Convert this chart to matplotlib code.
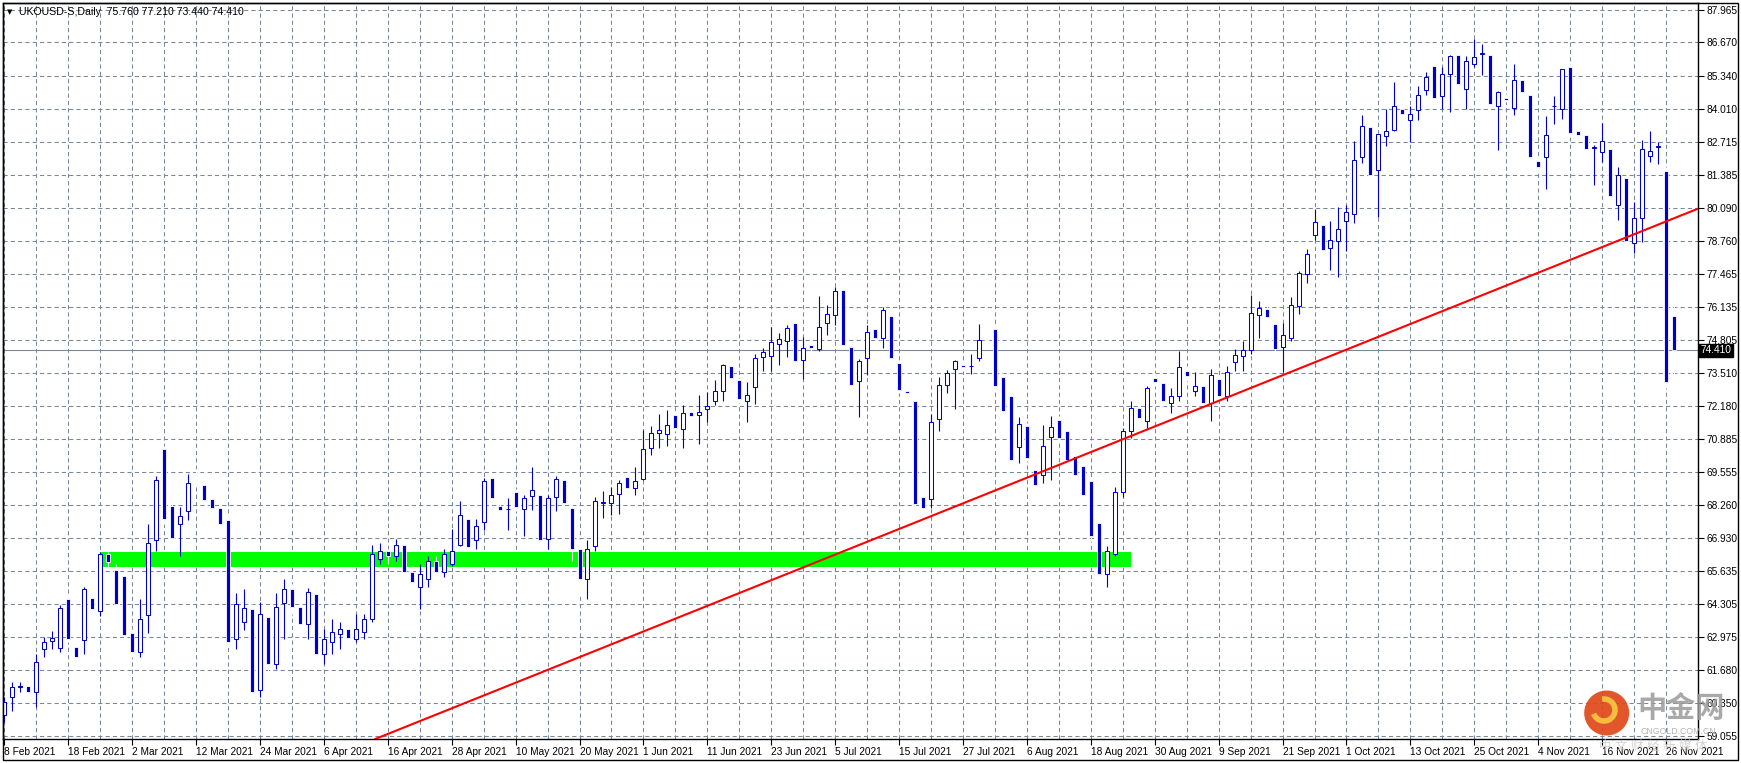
import numpy as np
import matplotlib
matplotlib.use('Agg')
import matplotlib.pyplot as plt
from matplotlib.patches import Rectangle, Circle, Arc

plt.rcParams['font.family'] = ['Liberation Sans', 'Noto Sans CJK SC', 'DejaVu Sans']

# daily candles, 8 Feb 2021 .. 29 Nov 2021
opens = [59.9, 60.6, 61.0, 61.05, 60.8, 62.5, 62.84, 62.55, 64.52, 62.6,
         62.86, 64.56, 64.03, 66.31, 65.65, 65.41, 63.14, 62.4, 63.88, 66.87,
         70.47, 68.20, 67.51, 67.99, 69.3, 69.03, 68.49, 68.12, 67.64, 62.9,
         63.57, 64.10, 60.9, 63.78, 61.9, 64.36, 64.92, 64.2, 63.5, 64.7,
         62.3, 62.8, 63.1, 63.3, 62.9, 63.2, 63.7, 66.1, 66.4, 66.2,
         66.64, 65.6, 65.0, 65.3, 66.0, 65.6, 65.9, 66.65, 67.71, 66.86,
         67.58, 69.31, 68.19, 68.07, 68.75, 68.10, 68.60, 68.63, 66.90, 68.56,
         69.23, 68.12, 66.5, 65.3, 66.6, 68.34, 68.33, 68.67, 69.36, 68.91,
         69.29, 70.50, 71.13, 71.09, 71.82, 71.29, 71.94, 71.85, 72.09, 72.41,
         72.77, 73.79, 73.22, 72.41, 72.93, 74.16, 74.19, 74.68, 74.78, 75.49,
         74.03, 74.61, 74.45, 75.50, 75.82, 76.80, 74.53, 73.17, 74.12, 75.25,
         74.88, 75.77, 73.92, 72.78, 72.38, 68.56, 68.47, 71.69, 73.04, 73.68,
         73.84, 73.78, 74.12, 74.8, 75.25, 73.35, 72.58, 70.56, 71.39, 69.66,
         69.46, 70.97, 71.63, 71.21, 70.21, 69.79, 69.20, 67.52, 65.5, 66.3,
         68.78, 71.2, 72.1, 71.6, 73.32, 73.1, 72.3, 72.6, 73.60, 72.8,
         73.0, 72.3, 73.26, 72.6, 73.93, 74.17, 74.41, 75.80, 76.06, 75.47,
         74.56, 74.88, 76.16, 77.45, 79.02, 79.41, 78.48, 78.76, 79.56, 79.83,
         82.10, 83.31, 81.59, 82.94, 83.17, 84.03, 83.58, 83.98, 84.77, 85.74,
         84.53, 85.41, 86.18, 84.81, 85.81, 86.21, 86.18, 84.14, 84.45, 84.06,
         85.18, 84.59, 81.96, 82.10, 84.12, 84.02, 85.70, 83.15, 83.0, 82.47,
         82.30, 82.44, 80.19, 81.28, 78.68, 79.68, 82.14, 82.51, 81.56, 75.76]
highs = [60.6, 61.2, 61.2, 61.2, 62.3, 63.0, 63.22, 64.26, 64.7, 62.8,
         65.0, 64.8, 66.37, 66.37, 65.89, 65.76, 63.3, 64.52, 67.51, 69.39,
         70.6, 68.4, 68.15, 69.47, 69.7, 69.7, 68.6, 68.2, 67.8, 64.75,
         64.89, 64.3, 64.38, 64.0, 64.75, 65.29, 65.1, 64.4, 64.95, 64.8,
         63.3, 63.7, 63.6, 63.5, 63.9, 63.9, 66.64, 66.72, 66.5, 66.88,
         66.8, 65.8, 65.9, 66.2, 66.2, 66.5, 67.29, 68.39, 67.9, 67.71,
         69.32, 69.4, 68.3, 68.51, 68.9, 68.63, 69.78, 68.8, 68.63, 69.40,
         69.4, 68.3, 66.9, 66.85, 68.55, 68.80, 68.97, 69.24, 69.5, 69.77,
         71.24, 71.39, 71.86, 72.02, 72.0, 72.22, 72.1, 72.62, 72.75, 73.22,
         73.87, 73.9, 73.3, 73.14, 74.25, 74.52, 75.33, 75.09, 75.41, 75.6,
         74.92, 74.7, 76.56, 76.20, 76.93, 77.0, 74.7, 74.05, 75.40, 75.4,
         76.14, 75.9, 74.0, 72.9, 72.5, 68.7, 71.86, 73.36, 73.62, 74.01,
         74.0, 74.28, 75.45, 75.0, 75.4, 73.5, 72.7, 71.74, 71.5, 69.8,
         71.43, 71.81, 71.8, 71.3, 70.4, 69.9, 69.3, 67.6, 66.6, 68.98,
         71.33, 72.4, 72.3, 73.0, 73.5, 73.2, 72.9, 74.39, 73.8, 73.56,
         73.1, 73.68, 73.4, 73.80, 74.47, 74.79, 76.62, 76.36, 76.2, 75.6,
         75.51, 76.54, 77.58, 78.45, 80.02, 79.6, 79.57, 80.13, 80.19, 82.73,
         83.79, 83.5, 83.03, 84.03, 85.10, 84.2, 84.15, 84.94, 85.50, 85.9,
         85.69, 86.18, 86.3, 86.14, 86.82, 86.62, 86.3, 84.75, 84.6, 85.82,
         85.3, 84.7, 82.1, 83.75, 84.55, 85.61, 85.8, 83.3, 83.1, 82.57,
         83.47, 82.6, 81.72, 81.4, 80.30, 82.80, 83.15, 82.70, 81.7, 77.21]
lows = [59.6, 60.05, 60.8, 60.6, 60.2, 62.2, 62.5, 62.4, 62.8, 62.0,
        62.3, 63.9, 63.82, 65.78, 64.2, 62.9, 62.2, 62.2, 63.15, 66.42,
        67.5, 66.8, 66.22, 67.65, 69.0, 68.3, 68.0, 67.3, 62.6, 62.5,
        63.29, 60.5, 60.6, 61.6, 61.7, 62.93, 63.9, 63.3, 62.9, 62.0,
        61.9, 62.3, 62.5, 62.7, 62.8, 62.9, 63.6, 65.9, 65.9, 66.0,
        65.5, 65.0, 64.1, 65.0, 65.4, 65.4, 65.8, 66.61, 66.4, 66.5,
        67.25, 68.4, 67.9, 67.25, 68.0, 67.01, 68.04, 66.7, 66.48, 68.0,
        68.2, 66.0, 64.7, 64.5, 66.4, 67.75, 67.86, 67.91, 68.8, 68.65,
        69.26, 70.24, 70.52, 70.60, 71.2, 70.52, 71.7, 70.68, 71.56, 72.23,
        72.39, 73.2, 72.3, 71.56, 72.27, 73.59, 73.59, 73.83, 74.13, 73.9,
        73.27, 74.4, 74.39, 75.02, 75.42, 74.5, 72.9, 71.76, 73.43, 74.8,
        74.51, 74.0, 72.7, 72.6, 68.1, 68.0, 68.11, 71.20, 72.71, 72.09,
        73.6, 73.48, 73.99, 74.5, 72.8, 71.8, 69.9, 69.91, 70.0, 68.9,
        69.12, 69.25, 70.8, 69.9, 69.3, 68.5, 66.8, 65.1, 65.0, 66.2,
        68.55, 70.9, 71.4, 71.3, 73.0, 72.2, 71.9, 72.4, 73.2, 72.6,
        72.2, 71.6, 72.5, 72.4, 73.57, 73.60, 74.25, 74.91, 75.6, 74.3,
        73.53, 74.76, 75.84, 77.07, 78.80, 78.2, 77.59, 77.31, 78.35, 79.46,
        81.85, 81.3, 79.72, 82.53, 83.13, 83.7, 82.69, 83.60, 84.56, 84.3,
        84.0, 83.90, 84.9, 84.0, 85.71, 85.37, 84.1, 82.37, 84.3, 83.76,
        84.5, 82.0, 81.5, 80.82, 83.43, 83.63, 82.9, 82.9, 82.3, 81.0,
        81.91, 80.4, 79.58, 78.6, 78.28, 78.72, 81.89, 81.81, 72.9, 73.44]
closes = [60.4, 61.0, 61.05, 60.8, 62.0, 62.8, 62.94, 64.16, 62.93, 62.2,
          64.91, 64.11, 66.31, 65.99, 64.31, 63.07, 62.4, 63.69, 66.75, 69.26,
          67.69, 66.94, 67.83, 69.14, 69.3, 68.45, 68.13, 67.48, 62.8, 64.32,
          64.16, 60.8, 63.92, 61.9, 64.20, 64.92, 64.2, 63.5, 64.8, 62.3,
          62.9, 63.2, 63.3, 62.95, 63.3, 63.7, 66.3, 66.4, 66.2, 66.64,
          65.6, 65.2, 65.5, 66.0, 65.6, 66.3, 66.4, 67.86, 66.57, 67.42,
          69.19, 68.52, 68.04, 68.09, 68.16, 68.54, 68.83, 66.85, 68.54, 69.29,
          68.31, 66.5, 65.3, 66.5, 68.39, 68.38, 68.64, 69.14, 68.93, 69.22,
          70.46, 71.13, 71.23, 71.45, 71.32, 71.93, 71.80, 71.97, 72.21, 72.78,
          73.81, 73.31, 72.47, 72.61, 74.12, 74.36, 74.72, 74.84, 75.28, 73.99,
          74.52, 74.50, 75.35, 75.87, 76.79, 74.63, 73.03, 74.0, 75.12, 74.88,
          76.03, 74.12, 72.81, 72.70, 68.29, 68.11, 71.57, 73.04, 73.52, 73.97,
          73.75, 73.80, 74.81, 74.8, 72.99, 71.98, 70.03, 71.47, 70.11, 69.05,
          70.58, 71.37, 70.92, 70.03, 69.45, 68.65, 67.0, 65.5, 66.4, 68.76,
          71.21, 72.1, 71.7, 72.9, 73.13, 72.4, 72.6, 73.76, 73.37, 73.0,
          72.3, 73.42, 72.6, 73.54, 74.22, 74.43, 75.89, 76.09, 75.75, 74.45,
          75.02, 76.21, 77.49, 78.24, 79.52, 78.39, 78.80, 79.24, 79.91, 81.98,
          83.35, 81.41, 83.03, 83.14, 84.14, 83.80, 83.82, 84.57, 85.29, 84.44,
          85.41, 86.13, 85.0, 85.93, 86.09, 86.25, 84.20, 84.69, 84.42, 85.17,
          84.68, 82.09, 81.69, 82.98, 84.14, 85.61, 83.05, 83.0, 82.41, 82.50,
          82.74, 80.54, 81.40, 78.76, 79.68, 82.42, 82.34, 82.53, 73.13, 74.41]

date_labels = ['8 Feb 2021', '18 Feb 2021', '2 Mar 2021', '12 Mar 2021', '24 Mar 2021',
               '6 Apr 2021', '16 Apr 2021', '28 Apr 2021', '10 May 2021', '20 May 2021',
               '1 Jun 2021', '11 Jun 2021', '23 Jun 2021', '5 Jul 2021', '15 Jul 2021',
               '27 Jul 2021', '6 Aug 2021', '18 Aug 2021', '30 Aug 2021', '9 Sep 2021',
               '21 Sep 2021', '1 Oct 2021', '13 Oct 2021', '25 Oct 2021', '4 Nov 2021',
               '16 Nov 2021', '26 Nov 2021']
price_levels = [59.055, 60.350, 61.680, 62.975, 64.305, 65.635, 66.930, 68.260,
                69.555, 70.885, 72.180, 73.510, 74.805, 76.135, 77.465, 78.760,
                80.090, 81.385, 82.715, 84.010, 85.340, 86.670, 87.965]

# support zone (green rectangle) and the red trend line
zone_start, zone_end = 12, 141
zone_low, zone_high = 65.76, 66.37
trend_idx = [48, 208]
trend_price = [59.13, 79.54]

W, H = 1741, 763
BLUE = '#0000CD'
GRID = '#778899'

fig = plt.figure(figsize=(W / 100, H / 100), dpi=100)
ax = fig.add_axes([3 / W, 1 - 739 / H, (1698 - 3) / W, (739 - 3) / H])

o = np.array(opens); h = np.array(highs); l = np.array(lows); c = np.array(closes)
x = np.arange(len(o))
bull = c > o

# wicks: blue on up candles, white on down candles
ax.vlines(x[bull], l[bull], h[bull], color=BLUE, lw=0.8, zorder=3)
ax.vlines(x[~bull], l[~bull], h[~bull], color='white', lw=0.8, zorder=3)

# bodies
ax.bar(x[bull], (c - o)[bull], bottom=o[bull], width=0.5, color='white',
       edgecolor=BLUE, linewidth=0.75, zorder=4)
down_h = o[~bull] - c[~bull]
down_h = np.where(down_h > 0, np.maximum(down_h, 0.08), 0)
ax.bar(x[~bull], down_h, bottom=o[~bull] - down_h, width=0.5, color=BLUE,
       edgecolor='white', linewidth=0.6, zorder=4)

ax.add_patch(Rectangle((zone_start, zone_low), zone_end - zone_start, zone_high - zone_low,
                       facecolor='#00FF00', edgecolor='none', zorder=1))
ax.axline((trend_idx[0], trend_price[0]), (trend_idx[1], trend_price[1]),
          color='#FF0000', lw=1.5, zorder=5)
ax.axhline(closes[-1], color=GRID, lw=0.8, zorder=2)

ax.set_xlim(-0.16, 211.7)
ax.set_ylim(58.93, 88.24)

ax.set_xticks(np.arange(0, len(o), 8))
ax.set_xticklabels(date_labels[:len(np.arange(0, len(o), 8))], ha='left')
ax.set_xticks(np.arange(0, len(o) + 3, 4), minor=True)
ax.set_yticks(price_levels)
ax.set_yticklabels([f'{v:.3f}' for v in price_levels])
ax.yaxis.tick_right()
ax.tick_params(axis='y', length=4, width=0.8, pad=2, labelsize=7.3, colors='black')
ax.tick_params(axis='x', which='major', length=4, width=0.8, pad=2, labelsize=7.3)
ax.tick_params(axis='x', which='minor', length=0)
ax.set_axisbelow(True)
ax.grid(True, axis='both', which='both', color=GRID, lw=0.75, linestyle=(0, (4, 3)), zorder=0)
ax.grid(False, axis='y', which='minor')
for s in ax.spines.values():
    s.set_color('black')
    s.set_linewidth(1.0)

# current price tag
ax.text(1.0015, closes[-1], f'{closes[-1]:.3f}', transform=ax.get_yaxis_transform(),
        color='white', fontsize=7.3, va='center', ha='left', zorder=10, clip_on=False,
        bbox=dict(boxstyle='square,pad=0.15', fc='black', ec='black'))

# header
fig.text(10 / W, 1 - 12 / H, '\u25bc', fontsize=5, color='black', va='center', ha='center',
         family=['DejaVu Sans'])
fig.text(19 / W, 1 - 12 / H,
         f'UKOUSD-S,Daily  {opens[-1]:.3f} {highs[-1]:.3f} {lows[-1]:.3f} {closes[-1]:.3f}',
         fontsize=7.6, color='black', va='center', ha='left')

# window frame
fig.add_artist(Rectangle((3 / W, 1 - 760 / H), (1738 - 3) / W, (760 - 3) / H,
                         transform=fig.transFigure, fill=False, ec='black', lw=1.0))

# watermark
fig.add_artist(Circle((1606.7 / 100, (H - 713) / 100), 0.225, transform=fig.dpi_scale_trans,
                      fc='#E0481A', ec='none', alpha=0.92, zorder=20))
fig.add_artist(Arc((1604 / 100, (H - 710) / 100), 0.22, 0.22, theta1=200, theta2=100,
                   transform=fig.dpi_scale_trans, color='#F6BE3F', lw=4, zorder=21))
fig.text(1681 / W, 1 - 709 / H, '中金网', fontsize=21, weight='bold', color='#9A9A9A',
         ha='center', va='center', alpha=0.85, zorder=20)
fig.text(1678 / W, 1 - 731 / H, 'CNGOLD.COM.CN', fontsize=6.3, color='#B4B4B4',
         ha='center', va='center', zorder=20)
fig.text(1653 / W, 1 - 747 / H, '中 文 财 经 新 媒 体', fontsize=9, color='#C8C8C8',
         ha='center', va='center', alpha=0.8, zorder=20)

fig.savefig('out.png', dpi=100, facecolor='white')
